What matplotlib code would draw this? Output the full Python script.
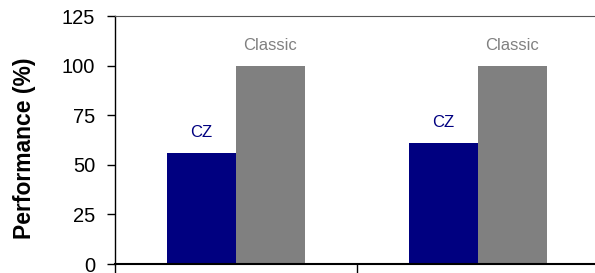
import matplotlib.pyplot as plt
import numpy as np

plt.rcParams['font.family'] = ['Liberation Sans', 'DejaVu Sans']

# data
groups = ['', '']
series = ['CZ', 'Classic']
cz_values = [56, 61]
classic_values = [100, 100]
colors = ['#000080', '#808080']

fig = plt.figure(figsize=(5.95, 2.73), dpi=100)
ax = fig.add_axes([115 / 595, 9 / 273, 484 / 595, 248 / 273])

x = np.arange(len(groups))
bar_width = 0.285

for i, (name, vals) in enumerate(zip(series, [cz_values, classic_values])):
    pos = x + (i - 0.5) * bar_width
    ax.bar(pos, vals, width=bar_width, color=colors[i], linewidth=0)
    # label over each bar
    for px, v in zip(pos, vals):
        ax.text(px, v + 6.5, name, ha='center', va='bottom',
                fontsize=12, color=colors[i])

ax.set_xlim(-0.5, 1.5)
ax.set_ylim(0, 125)
ax.set_yticks(np.arange(0, 126, 25))
ax.set_xticks([-0.5, 0.5, 1.5])
ax.set_xticklabels([])
ax.tick_params(axis='y', labelsize=14.5, length=5.8, width=1, direction='out', pad=8.6)
ax.tick_params(axis='x', length=7, width=1, direction='out')
ax.set_ylabel('Performance (%)', fontsize=16.5, fontweight='bold', va='center')
ax.yaxis.set_label_coords((24.5 - 115) / 484, 0.466)

ax.spines['left'].set_linewidth(1.0)
ax.spines['bottom'].set_linewidth(1.5)
ax.spines['top'].set_linewidth(0.8)
ax.spines['top'].set_color('#555555')

fig.savefig('out.png', dpi=100)
